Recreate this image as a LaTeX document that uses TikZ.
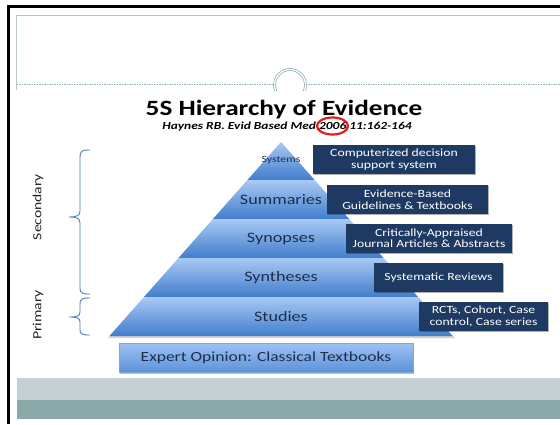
\documentclass[tikz,border=0pt]{standalone}
\usepackage{fontspec}
\setmainfont{Carlito}[FakeStretch=1.25]
\usetikzlibrary{shadows}

\definecolor{framegrey}{HTML}{B8C6CA}
\definecolor{dashteal}{HTML}{8EB0B8}
\definecolor{ringteal}{HTML}{8FAAB0}
\definecolor{bandlight}{HTML}{A8C9F4}
\definecolor{banddark}{HTML}{417DCC}
\definecolor{navytext}{HTML}{1C2E4A}
\definecolor{boxnavy}{HTML}{1F3A62}
\definecolor{explight}{HTML}{9EC2F2}
\definecolor{expdark}{HTML}{5C92DA}
\definecolor{expborder}{HTML}{7FA6D6}
\definecolor{bracecol}{HTML}{4F7FBD}
\definecolor{stripgrey}{HTML}{C5D0D5}
\definecolor{stripteal}{HTML}{8AAAAA}
\definecolor{circlered}{HTML}{E01E1E}

\begin{document}
\begin{tikzpicture}[x=1pt,y=-1pt,
  band/.style={top color=bandlight, bottom color=banddark, draw=none},
  lvl/.style={text=navytext, inner sep=0pt, font=\fontsize{14.5}{16}\selectfont},
  ebox/.style={fill=boxnavy, text=white, align=center, inner sep=0pt,
    font=\fontsize{11}{11.5}\selectfont, minimum height=29,
    drop shadow={shadow xshift=1.2pt, shadow yshift=-1.2pt, fill=black, opacity=0.3}},
  sidelabel/.style={rotate=90, inner sep=0pt, text=black!85, font=\fontsize{12.5}{14}\selectfont},
  bracepath/.style={draw=bracecol, line width=0.9pt}
]
\useasboundingbox (0,0) rectangle (560,424);
\fill[white] (0,0) rectangle (560,424);

% slide frame
\draw[black, line width=2.5pt] (7,6.5) -- (560,6.5);
\draw[black, line width=3pt] (8.5,5) -- (8.5,424);

% title placeholder outline, dotted rule and ring ornament
\draw[framegrey, line width=1pt] (16.5,90) -- (16.5,15.5) -- (560,15.5);
\draw[dashteal, line width=0.8pt, dash pattern=on 1.5pt off 1pt] (16.5,84) -- (272,84);
\draw[dashteal, line width=0.8pt, dash pattern=on 1.5pt off 1pt] (308,84) -- (560,84);
\begin{scope}
  \clip (260,60) rectangle (320,90);
  \draw[ringteal, line width=0.7pt, double=white, double distance=1.3pt] (290,85) circle [radius=15.5];
\end{scope}

% title and reference
\node[anchor=base, inner sep=0pt, font=\fontsize{21.8}{24}\selectfont\bfseries] (title) at (284,115) {5S Hierarchy of Evidence};
\node[anchor=base, inner sep=0pt, font=\fontsize{10.75}{12}\selectfont\bfseries\itshape] (ref) at (287,129) {Haynes RB. Evid Based Med 2006 11:162-164};
\draw[circlered, line width=2.2pt] (332.5,126) ellipse [x radius=15.5, y radius=8.5];

% pyramid shadow and bands
\fill[black, opacity=0.18] (281,143) -- (455,338) -- (108,338) -- cycle;
\path[band] (281,142) -- (314.6,180) -- (247.4,180) -- cycle;
\path[band] (247.4,180) -- (314.6,180) -- (349.1,219) -- (212.9,219) -- cycle;
\path[band] (212.9,219) -- (349.1,219) -- (383.5,258) -- (178.5,258) -- cycle;
\path[band] (178.5,258) -- (383.5,258) -- (418,297) -- (144,297) -- cycle;
\path[band] (144,297) -- (418,297) -- (452.5,336) -- (109.5,336) -- cycle;

% level labels
\node[lvl, font=\fontsize{9.5}{11}\selectfont] (systems) at (281,160.5) {Systems};
\node[lvl] (summaries) at (281,199.5) {Summaries};
\node[lvl] (synopses) at (281,238.5) {Synopses};
\node[lvl] (syntheses) at (281,277.5) {Syntheses};
\node[lvl] (studies) at (281,317) {Studies};

% example boxes
\node[ebox, minimum width=162] (cdss) at (394,159.5) {Computerized decision\\support system};
\node[ebox, minimum width=161] (ebg) at (407.5,199.5) {Evidence-Based\\Guidelines \& Textbooks};
\node[ebox, minimum width=166] (caj) at (429,238) {Critically-Appraised\\Journal Articles \& Abstracts};
\node[ebox, minimum width=129] (sr) at (438.5,277.5) {Systematic Reviews};
\node[ebox, minimum width=129] (rct) at (483.5,316.5) {RCTs, Cohort, Case\\control, Case series};

% base box
\node[draw=expborder, line width=0.6pt, top color=explight, bottom color=expdark,
  minimum width=294, minimum height=29, inner sep=0pt, text=navytext,
  font=\fontsize{14}{16}\selectfont,
  drop shadow={shadow xshift=1pt, shadow yshift=-1.5pt, fill=black, opacity=0.25}] (expert) at (266,357.5) {Expert Opinion: Classical Textbooks};

% braces
\draw[bracepath] (90,150) .. controls (82,150) and (80,151) .. (80,157) -- (80,211)
  .. controls (80,215.5) and (77,217) .. (69,217)
  .. controls (77,217) and (80,218.5) .. (80,223) -- (80,288)
  .. controls (80,293) and (82,294) .. (90,294);
\draw[bracepath] (90,298) .. controls (82,298) and (80,299) .. (80,304) -- (80,312)
  .. controls (80,316) and (77,317) .. (69,317)
  .. controls (77,317) and (80,318) .. (80,322) -- (80,330)
  .. controls (80,334) and (82,335) .. (90,335);
\node[sidelabel] (secondary) at (38,207) {Secondary};
\node[sidelabel] (primary) at (38,315) {Primary};

% footer strips
\fill[stripgrey] (16.5,378) rectangle (560,400);
\fill[stripteal] (16.5,400) rectangle (560,419);
\end{tikzpicture}
\end{document}
